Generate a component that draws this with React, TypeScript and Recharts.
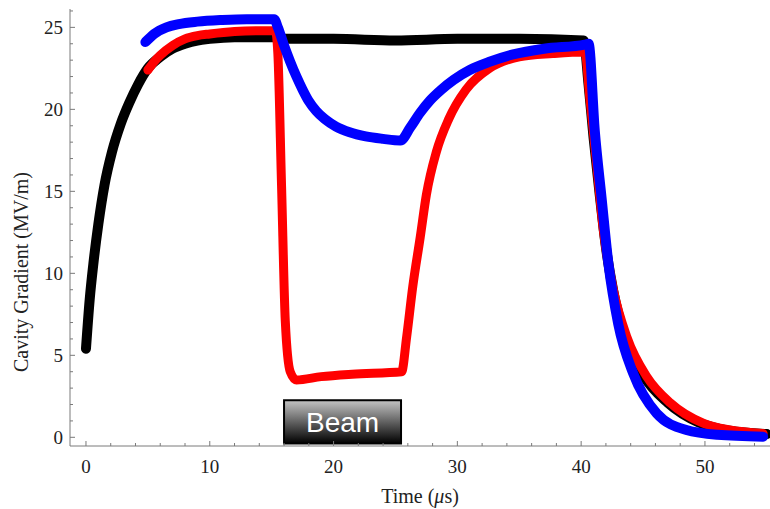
import { LineChart, Line, XAxis, YAxis, ReferenceArea } from "recharts";

// time (µs) / gradient (MV/m)
const blackT = [0, 0.3, 0.6, 1.0, 1.5, 2.1, 2.8, 3.5, 4.2, 5.0, 6, 7, 8, 9, 10, 12, 15.5, 16, 20, 25, 30, 35, 40.2, 40.6, 41.0, 41.5, 42.0, 42.6, 43.5, 45.0, 47.0, 49.5, 52, 55];
const blackV = [5.4, 8.4, 10.6, 13.0, 15.4, 17.4, 19.1, 20.4, 21.5, 22.5, 23.2, 23.7, 24.0, 24.2, 24.3, 24.4, 24.4, 24.3, 24.3, 24.2, 24.3, 24.3, 24.2, 21.5, 18.3, 14.8, 11.6, 8.9, 6.2, 3.8, 2.1, 0.9, 0.4, 0.2];

const redT = [5.0, 5.5, 6, 7, 8, 9, 10, 12, 14, 15.3, 15.5, 15.8, 16.1, 16.5, 17, 19, 21.5, 25.5, 25.9, 26.4, 27.0, 27.5, 28.3, 29.3, 30.7, 32.6, 35, 37.7, 40.3, 40.7, 41.25, 41.8, 42.6, 43.7, 45.3, 47.2, 49.9, 52, 54.7];
const redV = [22.4, 22.9, 23.3, 23.9, 24.3, 24.5, 24.6, 24.75, 24.8, 24.8, 23.4, 15.3, 7.1, 4.0, 3.5, 3.7, 3.85, 4.0, 6.1, 9.2, 12.2, 14.8, 17.4, 19.4, 21.2, 22.5, 23.2, 23.4, 23.5, 20.7, 16.7, 12.6, 9.0, 6.1, 3.7, 2.1, 0.85, 0.45, 0.24];

const blueT = [4.8, 5.5, 6.5, 7.5, 9, 11, 13, 15.2, 15.5, 16.0, 16.5, 17.0, 17.5, 18.0, 18.6, 19.3, 20.2, 21.3, 22.6, 24.0, 25.4, 26.2, 27.0, 27.8, 28.7, 29.7, 31.0, 32.6, 34.5, 37.0, 40.3, 40.6, 41.1, 41.65, 42.2, 43.0, 44.2, 46.1, 48.5, 51, 54.7];
const blueV = [24.1, 24.6, 25.0, 25.2, 25.35, 25.45, 25.5, 25.5, 25.0, 23.9, 22.9, 22.0, 21.2, 20.5, 19.9, 19.4, 18.95, 18.6, 18.35, 18.2, 18.1, 18.9, 19.8, 20.55, 21.2, 21.8, 22.4, 22.9, 23.35, 23.7, 23.95, 24.0, 18.7, 14.6, 10.6, 6.9, 3.9, 1.46, 0.44, 0.15, 0.04];

const xTicks = [0, 2, 4, 6, 8, 10, 12, 14, 16, 18, 20, 22, 24, 26, 28, 30, 32, 34, 36, 38, 40, 42, 44, 46, 48, 50, 52, 54, 56];
const yTicks = [0, 1, 2, 3, 4, 5, 6, 7, 8, 9, 10, 11, 12, 13, 14, 15, 16, 17, 18, 19, 20, 21, 22, 23, 24, 25, 26];

const beamStart = 16;
const beamEnd = 25.45;

const zip = (t: number[], v: number[]) => t.map((x, i) => ({ t: x, v: v[i] }));

const serif = "'Liberation Serif', 'Times New Roman', serif";
const axisGray = "#7a7a7a";

function BottomTick({ x, y, payload }: any) {
  const major = payload.value % 10 === 0;
  return (
    <g>
      <line x1={x} x2={x} y1={y} y2={y - (major ? 5 : 3)} stroke={axisGray} />
      {major && (
        <text x={x} y={y + 27} textAnchor="middle" fontFamily={serif} fontSize={19} fill="#222">
          {payload.value}
        </text>
      )}
    </g>
  );
}

function TopTick({ x, y, payload }: any) {
  const major = payload.value % 10 === 0;
  return <line x1={x} x2={x} y1={y} y2={y + (major ? 5 : 3)} stroke={axisGray} />;
}

function LeftTick({ x, y, payload }: any) {
  const major = payload.value % 5 === 0;
  return (
    <g>
      <line x1={x} x2={x + (major ? 5 : 3)} y1={y} y2={y} stroke={axisGray} />
      {major && (
        <text x={x - 7} y={y + 6.5} textAnchor="end" fontFamily={serif} fontSize={19} fill="#222">
          {payload.value}
        </text>
      )}
    </g>
  );
}

export default function App() {
  return (
    <div style={{ position: "absolute", left: 0, top: 0, width: 770, height: 509, overflow: "hidden", background: "#fff" }}>
      <LineChart width={800} height={509} margin={{ top: 9, right: 10, bottom: 0, left: 0 }}>
        <defs>
          <linearGradient id="beamFill" x1="0" x2="0" y1="0" y2="1">
            <stop offset="0%" stopColor="#c4c4c4" />
            <stop offset="100%" stopColor="#000" />
          </linearGradient>
        </defs>
        <XAxis
          dataKey="t"
          type="number"
          domain={[-1.29, 56.87]}
          allowDataOverflow
          ticks={xTicks}
          interval={0}
          tick={<BottomTick />}
          tickLine={false}
          tickSize={0}
          tickMargin={0}
          height={63}
          stroke={axisGray}
          label={{
            content: () => (
              <text x={420} y={503} textAnchor="middle" fontFamily={serif} fontSize={20} fill="#222">
                Time (<tspan fontStyle="italic">μ</tspan>s)
              </text>
            ),
          }}
        />
        <XAxis
          xAxisId="top"
          orientation="top"
          dataKey="t"
          type="number"
          domain={[-1.29, 56.87]}
          allowDataOverflow
          ticks={xTicks}
          interval={0}
          tick={<TopTick />}
          tickLine={false}
          tickSize={0}
          tickMargin={0}
          height={0}
          stroke={axisGray}
        />
        <YAxis
          type="number"
          domain={[-0.53, 26.12]}
          allowDataOverflow
          ticks={yTicks}
          interval={0}
          tick={<LeftTick />}
          tickLine={false}
          tickSize={0}
          tickMargin={0}
          width={70}
          stroke={axisGray}
          label={{
            content: () => (
              <text transform="translate(28,272) rotate(-90)" textAnchor="middle" fontFamily={serif} fontSize={20} fill="#222">
                Cavity Gradient (MV/m)
              </text>
            ),
          }}
        />
        <ReferenceArea
          x1={beamStart}
          x2={beamEnd}
          y1={-0.37}
          y2={2.26}
          fill="url(#beamFill)"
          fillOpacity={1}
          stroke="#000"
          strokeWidth={2}
          label={{ value: "Beam", position: "center", fill: "#fff", fontSize: 28, fontFamily: "'Liberation Sans', Arial, sans-serif" }}
        />
        <Line data={zip(blackT, blackV)} dataKey="v" type="monotone" stroke="#000" strokeWidth={10} strokeLinecap="round" strokeLinejoin="round" dot={false} isAnimationActive={false} />
        <Line data={zip(redT, redV)} dataKey="v" type="monotone" stroke="#ff0000" strokeWidth={9} strokeLinecap="round" strokeLinejoin="round" dot={false} isAnimationActive={false} />
        <Line data={zip(blueT, blueV)} dataKey="v" type="monotone" stroke="#0000ff" strokeWidth={10} strokeLinecap="round" strokeLinejoin="round" dot={false} isAnimationActive={false} />
      </LineChart>
    </div>
  );
}
